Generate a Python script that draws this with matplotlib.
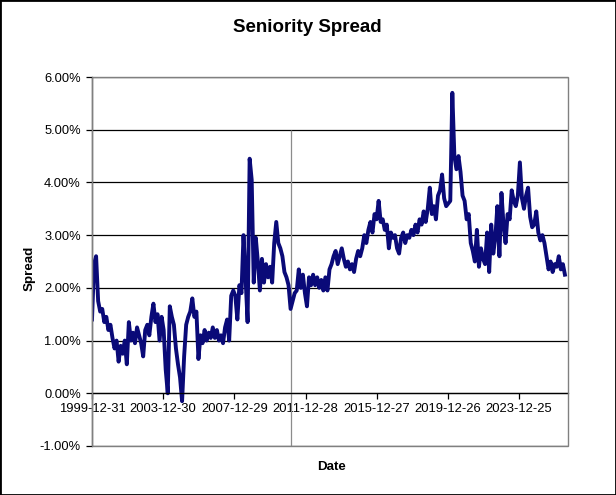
import matplotlib
matplotlib.use("Agg")
import matplotlib.pyplot as plt
import matplotlib.dates as mdates
from matplotlib.patches import Rectangle
from matplotlib.ticker import FuncFormatter, MultipleLocator
import pandas as pd
import numpy as np

plt.rcParams['font.family'] = ['Liberation Sans', 'DejaVu Sans']

title = "Seniority Spread"
x_label = "Date"
y_label = "Spread"

start_date = "1999-12-31"
step_days = 42
# spread values in percent, one every 6 weeks
spread = [
    1.40, 2.45, 2.60, 1.75, 1.55, 1.60, 1.35, 1.45, 1.20, 1.30,
    1.05, 0.85, 1.00, 0.60, 0.90, 0.75, 1.00, 0.55, 1.35, 1.00,
    1.15, 0.95, 1.25, 1.10, 0.95, 0.70, 1.20, 1.30, 1.10, 1.45,
    1.70, 1.35, 1.50, 1.00, 1.45, 1.20, 0.45, 0.00, 1.65, 1.45,
    1.30, 0.85, 0.55, 0.30, -0.15, 0.70, 1.30, 1.45, 1.55, 1.80,
    1.45, 1.55, 0.65, 1.10, 0.95, 1.20, 1.00, 1.15, 1.05, 1.25,
    1.05, 1.20, 1.00, 1.10, 0.95, 1.25, 1.40, 1.00, 1.85, 1.95,
    1.85, 1.40, 2.05, 1.90, 3.00, 2.20, 1.35, 4.45, 4.05, 2.10,
    2.95, 2.50, 1.95, 2.55, 2.10, 2.45, 2.20, 2.40, 2.10, 2.85,
    3.25, 2.85, 2.75, 2.60, 2.30, 2.20, 2.05, 1.60, 1.75, 1.90,
    1.95, 2.35, 2.00, 2.25, 1.90, 1.65, 2.20, 2.05, 2.25, 2.05,
    2.20, 2.00, 2.15, 1.95, 2.20, 1.95, 2.35, 2.45, 2.60, 2.70,
    2.45, 2.60, 2.75, 2.55, 2.40, 2.50, 2.35, 2.45, 2.30, 2.55,
    2.70, 2.60, 2.75, 3.00, 2.85, 3.10, 3.25, 3.05, 3.40, 3.30,
    3.65, 3.25, 3.30, 3.10, 3.20, 2.75, 3.05, 2.95, 3.00, 2.75,
    2.65, 2.95, 3.05, 2.85, 3.00, 2.95, 3.10, 3.00, 3.20, 3.05,
    3.30, 3.20, 3.45, 3.25, 3.50, 3.90, 3.40, 3.55, 3.30, 3.75,
    3.85, 4.15, 3.70, 3.55, 3.60, 3.65, 5.70, 4.50, 4.25, 4.50,
    4.20, 3.75, 3.65, 3.30, 3.40, 2.85, 2.70, 2.50, 3.10, 2.40,
    2.75, 2.55, 2.45, 3.05, 2.30, 3.20, 2.65, 2.95, 3.55, 2.60,
    3.80, 3.20, 2.85, 3.40, 3.30, 3.85, 3.65, 3.55, 3.75, 4.38,
    3.70, 3.50, 3.75, 3.90, 3.35, 3.15, 3.20, 3.45, 3.05, 2.90,
    3.00, 2.85, 2.60, 2.35, 2.50, 2.30, 2.45, 2.40, 2.60, 2.35,
    2.45, 2.25,
]
tick_labels = ["1999-12-31", "2003-12-30", "2007-12-29", "2011-12-28",
               "2015-12-27", "2019-12-26", "2023-12-25"]
marker_date = "2011-03-05"
x_end_offset_days = 9765

dates = pd.date_range(start_date, periods=len(spread), freq=f"{step_days}D")

W, H = 616, 495
fig = plt.figure(figsize=(W / 100, H / 100), dpi=100)
ax = fig.add_axes([92 / W, (H - 446) / H, 476 / W, (446 - 77) / H])

ax.set_xlim(pd.Timestamp(start_date), pd.Timestamp(start_date) + pd.Timedelta(days=x_end_offset_days))
ax.set_ylim(-1, 6)

# gridlines
ax.yaxis.set_major_locator(MultipleLocator(1))
ax.grid(axis='y', color='black', linewidth=0.9)
ax.set_axisbelow(True)

ax.vlines(pd.Timestamp(marker_date), -1, 5, color='#8c8c8c', linewidth=0.9, zorder=1)

ax.plot(dates, spread, color='#0a0a78', linewidth=2.8, solid_joinstyle='round', zorder=3)

# spines
for s in ['top', 'right']:
    ax.spines[s].set_visible(False)
ax.spines['bottom'].set_position(('data', 0))
ax.spines['bottom'].set_color('black')
ax.spines['bottom'].set_linewidth(0.9)
ax.spines['left'].set_color('black')
ax.spines['left'].set_linewidth(0.9)
ax.spines['bottom'].set_zorder(4)

ax.add_patch(Rectangle((0, 0), 1, 1, transform=ax.transAxes, fill=False,
                       edgecolor='#808080', linewidth=1.0, zorder=5, clip_on=False))

ax.yaxis.set_major_formatter(FuncFormatter(lambda v, p: f"{v:.2f}%"))
ax.tick_params(axis='y', direction='out', length=4, width=0.9, pad=4,
               labelsize=9.3, colors='black')

tick_pos = [pd.Timestamp(t) for t in tick_labels]
ax.set_xticks(tick_pos)
ax.set_xticklabels(tick_labels)
ax.tick_params(axis='x', direction='out', length=4, width=0.9, pad=3,
               labelsize=9.4, colors='black')

fig.text(307 / W, 1 - 28 / H, title, ha='center', va='center',
         fontsize=13.5, fontweight='bold')
fig.text(332 / W, 1 - 467 / H, x_label, ha='center', va='center',
         fontsize=9.6, fontweight='bold')
fig.text(30 / W, 1 - 268 / H, y_label, ha='center', va='center',
         fontsize=9.6, fontweight='bold', rotation=90)

fig.patches.append(Rectangle((0, 0), 1, 1, transform=fig.transFigure, fill=False,
                             edgecolor='black', linewidth=2.0, zorder=10))

fig.savefig("out.png", dpi=100)
